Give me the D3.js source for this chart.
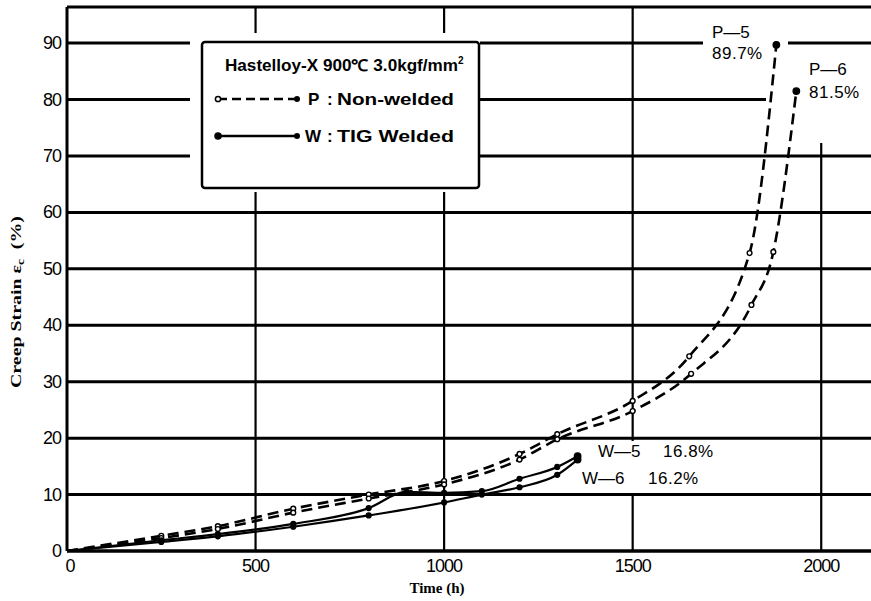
<!DOCTYPE html>
<html>
<head>
<meta charset="utf-8">
<script src="https://cdn.jsdelivr.net/npm/d3@7"></script>
<style>
  body { margin: 0; background: #fff; }
  svg { display: block; font-family: "Liberation Sans", Arial, sans-serif; }
</style>
</head>
<body>
<svg width="871" height="601"></svg>
<script>
// values
var p5Time = [0, 250, 400, 600, 800, 1000, 1200, 1300, 1500, 1650, 1810, 1881];
var p5Strain = [0, 2.7, 4.4, 7.5, 10.0, 12.4, 17.2, 20.7, 26.6, 34.5, 52.8, 89.7];
var p6Time = [0, 250, 400, 600, 800, 1000, 1200, 1300, 1500, 1655, 1815, 1873, 1934];
var p6Strain = [0, 2.3, 3.9, 6.8, 9.3, 11.8, 16.2, 19.8, 24.8, 31.4, 43.6, 53.0, 81.5];
var w5Time = [0, 250, 400, 600, 800, 900, 1000, 1100, 1200, 1300, 1354];
var w5Strain = [0, 1.9, 3.0, 4.8, 7.6, 10.5, 10.3, 10.6, 12.8, 14.9, 16.8];
var w6Time = [0, 250, 400, 600, 800, 1000, 1100, 1200, 1300, 1354];
var w6Strain = [0, 1.6, 2.6, 4.3, 6.3, 8.6, 10.0, 11.3, 13.5, 16.2];

var xTicks = [0, 500, 1000, 1500, 2000];
var yTicks = [0, 10, 20, 30, 40, 50, 60, 70, 80, 90];
var endLabels = [
    {name: "P\u20145", value: "89.7%"},
    {name: "P\u20146", value: "81.5%"},
    {name: "W\u20145", value: "16.8%"},
    {name: "W\u20146", value: "16.2%"}
];

var svg = d3.select("svg");

var x = d3.scaleLinear().domain([0, 2132]).range([67, 871]);
var y = d3.scaleLinear().domain([0, 96.4]).range([551, 7]);

function zip(t, e) {
    return t.map(function (d, i) { return [d, e[i]]; });
}

// grid
var grid = svg.append("g");
grid.selectAll(".hg")
    .data(yTicks.filter(function (d) { return d > 0; }))
    .enter().append("line")
    .attr("x1", x(0)).attr("x2", 871)
    .attr("y1", function (d) { return y(d); })
    .attr("y2", function (d) { return y(d); })
    .attr("stroke", "#000").attr("stroke-width", 3);

grid.selectAll(".vg")
    .data(xTicks.filter(function (d) { return d > 0; }))
    .enter().append("line")
    .attr("x1", function (d) { return x(d); })
    .attr("x2", function (d) { return x(d); })
    .attr("y1", function (d) { return d == 2000 ? y(72.5) : y(96.4); })
    .attr("y2", y(0))
    .attr("stroke", "#000").attr("stroke-width", 2.2);

// frame
svg.append("line").attr("x1", x(0)).attr("x2", 871).attr("y1", y(96.4)).attr("y2", y(96.4))
    .attr("stroke", "#000").attr("stroke-width", 3);
svg.append("line").attr("x1", x(0)).attr("x2", 871).attr("y1", y(0)).attr("y2", y(0))
    .attr("stroke", "#000").attr("stroke-width", 3.5);
svg.append("line").attr("x1", x(0)).attr("x2", x(0)).attr("y1", y(96.4)).attr("y2", y(0))
    .attr("stroke", "#000").attr("stroke-width", 3);

// white gaps in the grid behind legend and labels
var masks = [
    [190, 33, 290, 159],
    [703, 18, 85, 42],
    [766, 55, 105, 88],
    [590, 441, 150, 52]
];
svg.append("g").selectAll("rect").data(masks).enter().append("rect")
    .attr("x", function (d) { return d[0]; })
    .attr("y", function (d) { return d[1]; })
    .attr("width", function (d) { return d[2]; })
    .attr("height", function (d) { return d[3]; })
    .attr("fill", "#fff");

// tick labels
svg.append("g").selectAll("text").data(yTicks).enter().append("text")
    .attr("x", 61)
    .attr("y", function (d) { return y(d) + 6; })
    .attr("text-anchor", "end")
    .attr("font-size", 18)
    .attr("letter-spacing", -1)
    .text(function (d) { return d; });

svg.append("g").selectAll("text").data(xTicks).enter().append("text")
    .attr("x", function (d) { return x(d) + (d == 0 ? 3 : 0); })
    .attr("y", 572)
    .attr("text-anchor", "middle")
    .attr("font-size", 18)
    .attr("letter-spacing", -1)
    .text(function (d) { return d; });

svg.append("text").attr("x", 437).attr("y", 593)
    .attr("text-anchor", "middle").attr("font-size", 15).attr("font-weight", "bold")
    .attr("font-family", "Liberation Serif, serif")
    .text("Time (h)");

var yt = svg.append("text")
    .attr("transform", "translate(21,302) rotate(-90)")
    .attr("text-anchor", "middle").attr("font-size", 15).attr("font-weight", "bold")
    .attr("font-family", "Liberation Serif, serif")
    .attr("textLength", 172).attr("lengthAdjust", "spacingAndGlyphs");
yt.append("tspan").text("Creep Strain \u03b5");
yt.append("tspan").attr("font-size", 10).attr("dy", 3).text("c");
yt.append("tspan").attr("dy", -3).text("\u00a0\u00a0(%)");

// curves
var line = d3.line()
    .x(function (d) { return x(d[0]); })
    .y(function (d) { return y(d[1]); })
    .curve(d3.curveMonotoneX);

var series = [
    {pts: zip(p5Time, p5Strain), dash: true},
    {pts: zip(p6Time, p6Strain), dash: true},
    {pts: zip(w5Time, w5Strain), dash: false},
    {pts: zip(w6Time, w6Strain), dash: false}
];

series.forEach(function (s) {
    svg.append("path")
        .datum(s.pts)
        .attr("d", line)
        .attr("fill", "none")
        .attr("stroke", "#000")
        .attr("stroke-width", s.dash ? 2.6 : 2.2)
        .attr("stroke-dasharray", s.dash ? "11,6" : null);

    svg.append("g").selectAll("circle")
        .data(s.pts.slice(1))
        .enter().append("circle")
        .attr("cx", function (d) { return x(d[0]); })
        .attr("cy", function (d) { return y(d[1]); })
        .attr("r", function (d, i) { return i == s.pts.length - 2 ? 3.2 : 2.4; })
        .attr("fill", function (d, i) { return (s.dash && i < s.pts.length - 2) ? "#fff" : "#000"; })
        .attr("stroke", "#000").attr("stroke-width", 1.4);
});

// end labels
var labPos = [[712, 38, 712, 59], [809, 75, 809, 98], [598, 457, 663, 457], [582, 484, 648, 484]];
endLabels.forEach(function (d, i) {
    var p = labPos[i];
    svg.append("text").attr("x", p[0]).attr("y", p[1]).attr("font-size", 17).text(d.name);
    svg.append("text").attr("x", p[2]).attr("y", p[3]).attr("font-size", 17)
        .attr("letter-spacing", 0.5).text(d.value);
});

// legend
var lg = svg.append("g");
lg.append("rect").attr("x", 202).attr("y", 42).attr("width", 277).attr("height", 146)
    .attr("rx", 3).attr("fill", "#fff").attr("stroke", "#000").attr("stroke-width", 2.5);
var title = lg.append("text").attr("x", 225).attr("y", 71)
    .attr("font-size", 16).attr("font-weight", "bold");
title.append("tspan").attr("textLength", 233).attr("lengthAdjust", "spacingAndGlyphs")
    .text("Hastelloy-X 900\u2103  3.0kgf/mm");
title.append("tspan").attr("font-size", 10).attr("dy", -7).text("2");

function legendRow(yy, key, label, dashed) {
    lg.append("line").attr("x1", 218).attr("x2", 297).attr("y1", yy).attr("y2", yy)
        .attr("stroke", "#000").attr("stroke-width", 2.6).attr("stroke-dasharray", dashed ? "9,5" : null);
    lg.append("circle").attr("cx", 218).attr("cy", yy).attr("r", dashed ? 2.6 : 3)
        .attr("fill", dashed ? "#fff" : "#000").attr("stroke", "#000").attr("stroke-width", 1.5);
    lg.append("circle").attr("cx", 297).attr("cy", yy).attr("r", 3).attr("fill", "#000");
    var t = lg.append("text").attr("y", yy + 6).attr("font-size", 17).attr("font-weight", "bold");
    t.append("tspan").attr("x", key == "P" ? 308 : 305).text(key);
    t.append("tspan").attr("x", 327).text(":");
    t.append("tspan").attr("x", 337)
        .attr("textLength", 117).attr("lengthAdjust", "spacingAndGlyphs")
        .text(label);
}
legendRow(99, "P", "Non-welded", true);
legendRow(136, "W", "TIG Welded", false);
</script>
</body>
</html>
